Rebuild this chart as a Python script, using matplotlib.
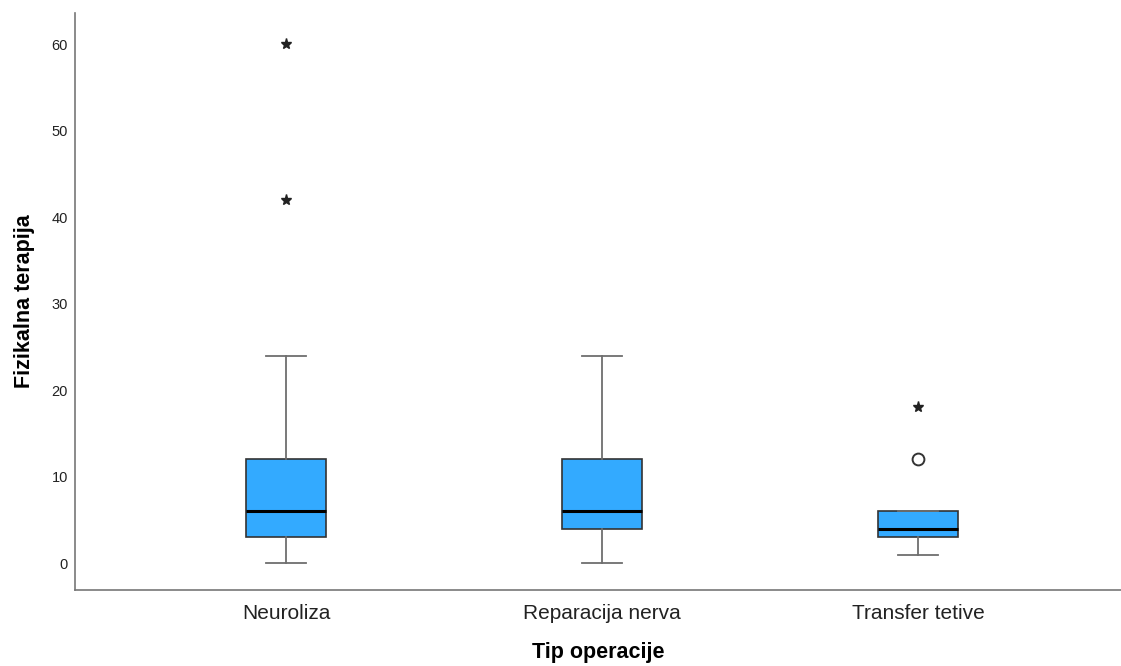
import matplotlib.pyplot as plt
import numpy as np

plt.rcParams['font.family'] = ['Liberation Sans', 'DejaVu Sans']

categories = ["Neuroliza", "Reparacija nerva", "Transfer tetive"]
whislo = [0, 0, 1]
q1 = [3, 4, 3]
med = [6, 6, 4]
q3 = [12, 12, 6]
whishi = [24, 24, 6]
# outliers: circles (mild) and stars (extreme)
mild_x = [3]
mild_y = [12]
extreme_x = [1, 1, 3]
extreme_y = [60, 42, 18]

stats = []
for i in range(len(categories)):
    stats.append(dict(label=categories[i], whislo=whislo[i], q1=q1[i], med=med[i],
                      q3=q3[i], whishi=whishi[i], fliers=[]))

fig = plt.figure(figsize=(11.21, 6.66), dpi=100)
ax = fig.add_axes([75/1121, 76/666, 1046/1121, 577/666])

pos = np.arange(1, len(categories) + 1)
ax.bxp(stats, positions=pos, widths=0.253, patch_artist=True, showfliers=False,
       boxprops=dict(facecolor='#33aaff', edgecolor='#333333', linewidth=1.2),
       medianprops=dict(color='black', linewidth=2.2),
       whiskerprops=dict(color='#6e6e6e', linewidth=1.3),
       capprops=dict(color='#6e6e6e', linewidth=1.3), capwidths=0.127)

ax.plot(mild_x, mild_y, 'o', mfc='white', mec='#333333', ms=8.5, mew=1.4)
ax.plot(extreme_x, extreme_y, '*', color='#222222', ms=8)

ax.set_xlim(0.332, 3.642)
ax.set_ylim(-3.1, 63.6)
ax.set_yticks([0, 10, 20, 30, 40, 50, 60])
ax.set_xticks(pos)
ax.set_xticklabels(categories, fontsize=15, color='#222222')
ax.tick_params(axis='y', length=0, labelsize=10.5, pad=5, colors='#222222')
ax.tick_params(axis='x', length=0, pad=10)
for s in ['top', 'right']:
    ax.spines[s].set_visible(False)
for s in ['left', 'bottom']:
    ax.spines[s].set_color('#777777')
    ax.spines[s].set_linewidth(1.2)

ax.set_ylabel("Fizikalna terapija", fontsize=15.5, fontweight='bold', labelpad=12)
ax.set_xlabel("Tip operacije", fontsize=15.5, fontweight='bold', labelpad=14)

fig.savefig("out.png", dpi=100)
